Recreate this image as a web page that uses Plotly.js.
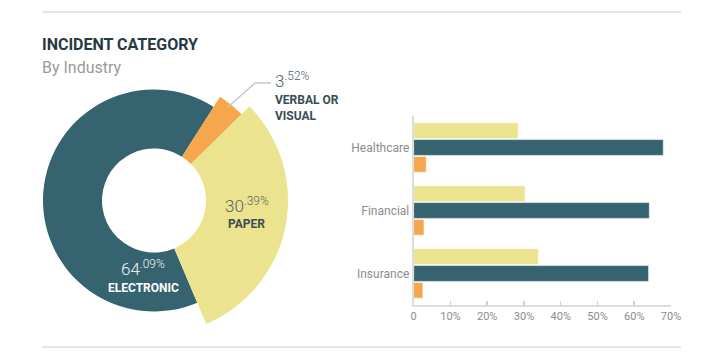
<!DOCTYPE html>
<html><head><meta charset="utf-8">
<script src="https://cdn.plot.ly/plotly-3.0.1.min.js"></script>
<style>html,body{margin:0;padding:0;background:#fff}#chart{width:712px;height:362px}</style>
</head><body><div id="chart"></div>
<script>
// ---- data ----
const categories = ['Verbal or Visual', 'Paper', 'Electronic'];
const categoryLabels = ['VERBAL OR<br>VISUAL', 'PAPER', 'ELECTRONIC'];
const shares = [3.52, 30.39, 64.09];
const industries = ['Healthcare', 'Financial', 'Insurance'];
const paperByIndustry = [28.4, 30.3, 33.9];
const electronicByIndustry = [67.9, 64.1, 63.9];
const verbalByIndustry = [3.4, 2.8, 2.5];
const xTickVals = [0, 10, 20, 30, 40, 50, 60, 70];
const xTickText = ['0', '10%', '20%', '30%', '40%', '50%', '60%', '70%'];

// ---- styling ----
const W = 712, H = 362;
const colors = ['#f6a64c', '#ebe38d', '#35636f'];
const FONT = 'Roboto, "Open Sans", sans-serif';
const px = x => x / W;
const py = y => 1 - y / H;

// donut geometry (pixels): each slice drawn with its own outer radius
const cx = 154, cy = 200.5, innerR = 52;
const outerR = [123, 134, 111];
const rotation = 32.5;

const traces = [];
[2, 0, 1].forEach(idx => {
  const r = outerR[idx];
  traces.push({
    type: 'pie', values: shares, labels: categories, sort: false,
    direction: 'clockwise', rotation: rotation, hole: innerR / r,
    domain: { x: [px(cx - r), px(cx + r)], y: [py(cy + r), py(cy - r)] },
    marker: { colors: categories.map((c, i) => i === idx ? colors[i] : 'rgba(0,0,0,0)'), line: { width: 0 } },
    textinfo: 'none', hoverinfo: 'skip', showlegend: false
  });
});

const barLine = { color: 'rgba(255,255,255,0.55)', width: 1 };
traces.push({ type: 'bar', orientation: 'h', y: industries, x: paperByIndustry, name: 'Paper',
  marker: { color: colors[1], line: barLine }, xaxis: 'x', yaxis: 'y', showlegend: false, hoverinfo: 'x+y' });
traces.push({ type: 'bar', orientation: 'h', y: industries, x: electronicByIndustry, name: 'Electronic',
  marker: { color: colors[2], line: barLine }, xaxis: 'x', yaxis: 'y', showlegend: false, hoverinfo: 'x+y' });
traces.push({ type: 'bar', orientation: 'h', y: industries, x: verbalByIndustry, name: 'Verbal or Visual',
  marker: { color: colors[0], line: barLine }, xaxis: 'x', yaxis: 'y', showlegend: false, hoverinfo: 'x+y' });

function numText(v) {
  const parts = v.toFixed(2).split('.');
  return parts[0] + '<sup>.' + parts[1] + '%</sup>';
}

const annotations = [
  { text: 'INCIDENT CATEGORY', x: px(40), y: py(44), xanchor: 'left', yanchor: 'middle',
    font: { family: FONT, size: 16, weight: 700, color: '#263a44' } },
  { text: 'By Industry', x: px(39.5), y: py(68), xanchor: 'left', yanchor: 'middle',
    font: { family: FONT, size: 16, color: '#9a9a9a' } },
  // paper
  { text: numText(shares[1]), x: px(247), y: py(205), xanchor: 'center', yanchor: 'middle',
    font: { family: FONT, size: 17, weight: 300, color: '#55636a' } },
  { text: categoryLabels[1], x: px(246.5), y: py(224), xanchor: 'center', yanchor: 'middle',
    font: { family: FONT, size: 12, weight: 700, color: '#3a4c55' } },
  // electronic
  { text: numText(shares[2]), x: px(143), y: py(268), xanchor: 'center', yanchor: 'middle',
    font: { family: FONT, size: 17, weight: 300, color: '#f2f5f6' } },
  { text: categoryLabels[2], x: px(143), y: py(288), xanchor: 'center', yanchor: 'middle',
    font: { family: FONT, size: 12, weight: 700, color: '#ffffff' } },
  // verbal
  { text: numText(shares[0]), x: px(272.5), y: py(80), xanchor: 'left', yanchor: 'middle',
    font: { family: FONT, size: 17, weight: 300, color: '#4a6470' } },
  { text: categoryLabels[0], x: px(272.5), y: py(107.5), xanchor: 'left', yanchor: 'middle', align: 'left',
    font: { family: FONT, size: 12, weight: 700, color: '#3a4c55' } }
].map(a => Object.assign({ xref: 'paper', yref: 'paper', showarrow: false }, a));

const shapes = [
  { type: 'line', xref: 'paper', yref: 'paper', x0: px(42), x1: px(681), y0: py(12), y1: py(12), line: { color: '#e6e6e6', width: 2 } },
  { type: 'line', xref: 'paper', yref: 'paper', x0: px(42), x1: px(681), y0: py(347), y1: py(347), line: { color: '#e6e6e6', width: 2 } },
  { type: 'path', xref: 'paper', yref: 'paper',
    path: `M ${px(228.5)} ${py(106.5)} L ${px(255)} ${py(83)} L ${px(271)} ${py(83)}`,
    line: { color: '#c8c8c8', width: 1.5 } }
];

const layout = {
  width: W, height: H, margin: { l: 0, r: 0, t: 0, b: 0 },
  paper_bgcolor: '#ffffff', plot_bgcolor: '#ffffff',
  font: { family: FONT },
  barmode: 'group', bargap: 0.2, bargroupgap: 0.06,
  xaxis: {
    domain: [px(413.7), px(671)], anchor: 'y', range: [0, 70],
    tickvals: xTickVals, ticktext: xTickText,
    showgrid: false, zeroline: false, showline: true, linecolor: '#dcdcdc', linewidth: 2,
    ticks: 'inside', ticklen: 4, tickwidth: 1.5, tickcolor: '#d0d0d0',
    tickfont: { family: FONT, size: 11, color: '#8c8c8c' }
  },
  yaxis: {
    domain: [py(305), py(116)], anchor: 'x', range: [2.5, -0.5], type: 'category',
    showgrid: false, zeroline: false, showline: true, linecolor: '#dcdcdc', linewidth: 2,
    ticks: '', tickfont: { family: FONT, size: 12, color: '#8c8c8c' }
  },
  annotations: annotations, shapes: shapes, showlegend: false
};

Plotly.newPlot('chart', traces, layout, { displayModeBar: false, staticPlot: true });
</script>
</body></html>
